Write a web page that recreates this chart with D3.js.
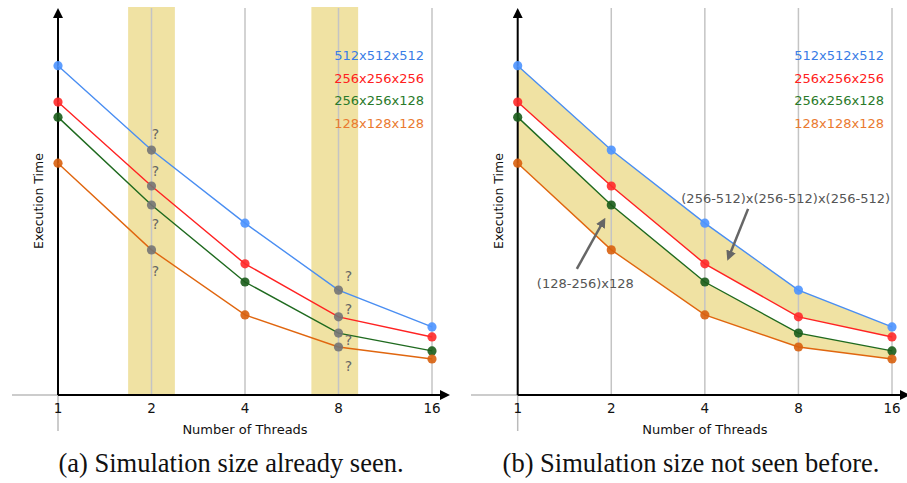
<!DOCTYPE html>
<html>
<head>
<meta charset="utf-8">
<script src="https://cdn.jsdelivr.net/npm/d3@7"></script>
<style>
  body { margin: 0; background: #fff; }
  svg { display: block; }
  text { font-family: "DejaVu Sans", sans-serif; }
</style>
</head>
<body>
<svg id="chart" width="907" height="483"></svg>
<script>
(function(){
// data (execution time, arbitrary units)
var threads = [1, 2, 4, 8, 16];
var sizes = ["512x512x512", "256x256x256", "256x256x128", "128x128x128"];
var t512 = [85.1, 63.3, 44.4, 27.1, 17.6];
var t256 = [75.7, 54.0, 33.9, 20.2, 15.0];
var t256b = [71.8, 49.1, 29.2, 16.0, 11.4];
var t128 = [59.9, 37.5, 20.7, 12.4, 9.3];
var unseenThreads = [2, 8];
var captions = ["(a) Simulation size already seen.", "(b) Simulation size not seen before."];
var rangeLabels = ["(256-512)x(256-512)x(256-512)", "(128-256)x128"];

var series = [t512, t256, t256b, t128];
var lineColors = ["#4a8ef2", "#ff2222", "#1f6a1f", "#e0660f"];
var dotColors = ["#4d94ff", "#ff2a2a", "#1a5c1a", "#d8600e"];
var textColors = ["#3a7de6", "#ff2020", "#2a7a2a", "#ea7a30"];
var bandFill = "#f0e2a3";

var svg = d3.select('#chart');
var height = 395, top = 8;

var y = d3.scaleLinear().domain([0, 100]).range([height, top]);

var defs = svg.append('defs');
defs.append('marker').attr('id', 'axArrow')
  .attr('viewBox', '0 0 10 10').attr('refX', 2).attr('refY', 5)
  .attr('markerWidth', 5).attr('markerHeight', 5).attr('orient', 'auto')
  .attr('markerUnits', 'strokeWidth')
  .append('path').attr('d', 'M0,0 L10,5 L0,10 Z').attr('fill', '#000');
defs.append('marker').attr('id', 'grArrow')
  .attr('viewBox', '0 0 10 10').attr('refX', 5).attr('refY', 5)
  .attr('markerWidth', 4).attr('markerHeight', 4).attr('orient', 'auto')
  .attr('markerUnits', 'strokeWidth')
  .append('path').attr('d', 'M0,0 L10,5 L0,10 Z').attr('fill', '#666');

// band half-widths in log2 units (left, right) around each unseen thread count
var bandSpan = { 2: [0.25, 0.25], 8: [0.29, 0.21] };

function panel(left, right, axStart, idx){
  var x = d3.scaleLog().base(2).domain([1, 16]).range([left, right]);
  var g = svg.append('g');

  // shaded bands (a) or ranges between curves (b)
  if (idx === 0) {
    unseenThreads.forEach(function(t){
      var l2 = Math.log2(t);
      var x0 = x(Math.pow(2, l2 - bandSpan[t][0])), x1 = x(Math.pow(2, l2 + bandSpan[t][1]));
      g.append('rect')
        .attr('x', x0).attr('width', x1 - x0)
        .attr('y', top - 1).attr('height', height - top + 1)
        .attr('fill', bandFill);
    });
  } else {
    var area = d3.area()
      .x(function(d, i){ return x(threads[i]); })
      .y0(function(d){ return y(d[1]); })
      .y1(function(d){ return y(d[0]); });
    [[t512, t256], [t256b, t128]].forEach(function(pair){
      var rows = threads.map(function(t, i){ return [pair[0][i], pair[1][i]]; });
      g.append('path').attr('d', area(rows)).attr('fill', bandFill);
    });
  }

  // grid
  g.selectAll('.grid').data(threads.slice(1)).enter().append('line')
    .attr('x1', function(d){ return x(d); }).attr('x2', function(d){ return x(d); })
    .attr('y1', top).attr('y2', height)
    .attr('stroke', '#c4c4c4').attr('stroke-width', 1.5);

  // axes
  g.append('line').attr('x1', axStart).attr('x2', x(1)).attr('y1', height).attr('y2', height)
    .attr('stroke', '#bbb').attr('stroke-width', 1.5);
  g.append('line').attr('x1', x(1)).attr('x2', x(1)).attr('y1', height).attr('y2', 431)
    .attr('stroke', '#bbb').attr('stroke-width', 1.5);
  g.append('line').attr('x1', x(1)).attr('x2', right + 10).attr('y1', height).attr('y2', height)
    .attr('stroke', '#000').attr('stroke-width', 2).attr('marker-end', 'url(#axArrow)');
  g.append('line').attr('x1', x(1)).attr('x2', x(1)).attr('y1', height).attr('y2', top + 8)
    .attr('stroke', '#000').attr('stroke-width', 2).attr('marker-end', 'url(#axArrow)');

  var xAxis = g.append('g');
  xAxis.selectAll('text').data(threads).enter().append('text')
    .attr('x', function(d){ return x(d); }).attr('y', 413)
    .attr('text-anchor', 'middle').attr('font-size', 13.5).attr('fill', '#111')
    .text(function(d){ return d; });

  g.append('text').attr('x', (x(1) + x(16)) / 2).attr('y', 434)
    .attr('text-anchor', 'middle').attr('font-size', 13).attr('fill', '#111')
    .text('Number of Threads');
  g.append('text')
    .attr('transform', 'translate(' + (x(1) - 15) + ',201) rotate(-90)')
    .attr('text-anchor', 'middle').attr('font-size', 12.5).attr('fill', '#111')
    .text('Execution Time');

  // lines and points
  var line = d3.line()
    .x(function(d, i){ return x(threads[i]); })
    .y(function(d){ return y(d); });
  series.forEach(function(s, k){
    g.append('path').attr('d', line(s)).attr('fill', 'none')
      .attr('stroke', lineColors[k]).attr('stroke-width', 1.4);
  });
  series.forEach(function(s, k){
    g.selectAll('.pt' + k).data(s).enter().append('circle')
      .attr('cx', function(d, i){ return x(threads[i]); })
      .attr('cy', function(d){ return y(d); })
      .attr('r', 4.6)
      .attr('fill', function(d, i){
        return (idx === 0 && unseenThreads.indexOf(threads[i]) >= 0) ? '#747474' : dotColors[k];
      })
      .attr('fill-opacity', 0.9);
  });

  // legend
  sizes.forEach(function(name, k){
    g.append('text').attr('x', right - 8).attr('y', 60 + k * 22.6)
      .attr('text-anchor', 'end').attr('font-size', 13).attr('fill', textColors[k])
      .text(name);
  });

  if (idx === 0) {
    // question marks next to the unknown points
    var qOffsets = { 2: { dx: 4, dy: [-16, -15, 19, 21] }, 8: { dx: 10, dy: [-14, -8, 7, 19] } };
    unseenThreads.forEach(function(t){
      var i = threads.indexOf(t);
      series.forEach(function(s, k){
        g.append('text').attr('x', x(t) + qOffsets[t].dx).attr('y', y(s[i]) + qOffsets[t].dy[k] + 5)
          .attr('text-anchor', 'middle').attr('font-size', 14).attr('fill', '#666')
          .text('?');
      });
    });
  } else {
    // range annotations with arrows
    var notes = [
      { label: rangeLabels[0], lx: 7.28, ly: 50.9, tail: [5.51, 48.1], tip: [4.79, 35.9] },
      { label: rangeLabels[1], lx: 1.65, ly: 28.9, tail: [1.55, 32.6], tip: [1.88, 44.7] }
    ];
    notes.forEach(function(n){
      g.append('text').attr('x', x(n.lx)).attr('y', y(n.ly) + 5)
        .attr('text-anchor', 'middle').attr('font-size', 13).attr('fill', '#555')
        .text(n.label);
      g.append('line')
        .attr('x1', x(n.tail[0])).attr('y1', y(n.tail[1]))
        .attr('x2', x(n.tip[0])).attr('y2', y(n.tip[1]))
        .attr('stroke', '#666').attr('stroke-width', 2.5)
        .attr('marker-end', 'url(#grArrow)');
    });
  }

  // caption
  g.append('text').attr('x', idx === 0 ? 231 : 691).attr('y', 472)
    .attr('text-anchor', 'middle')
    .style('font-family', '"Liberation Serif", "DejaVu Serif", serif')
    .attr('font-size', 26.5).attr('fill', '#111')
    .text(captions[idx]);
}

panel(58, 432, 12, 0);
panel(517.7, 892, 471, 1);
})();
</script>
</body>
</html>
